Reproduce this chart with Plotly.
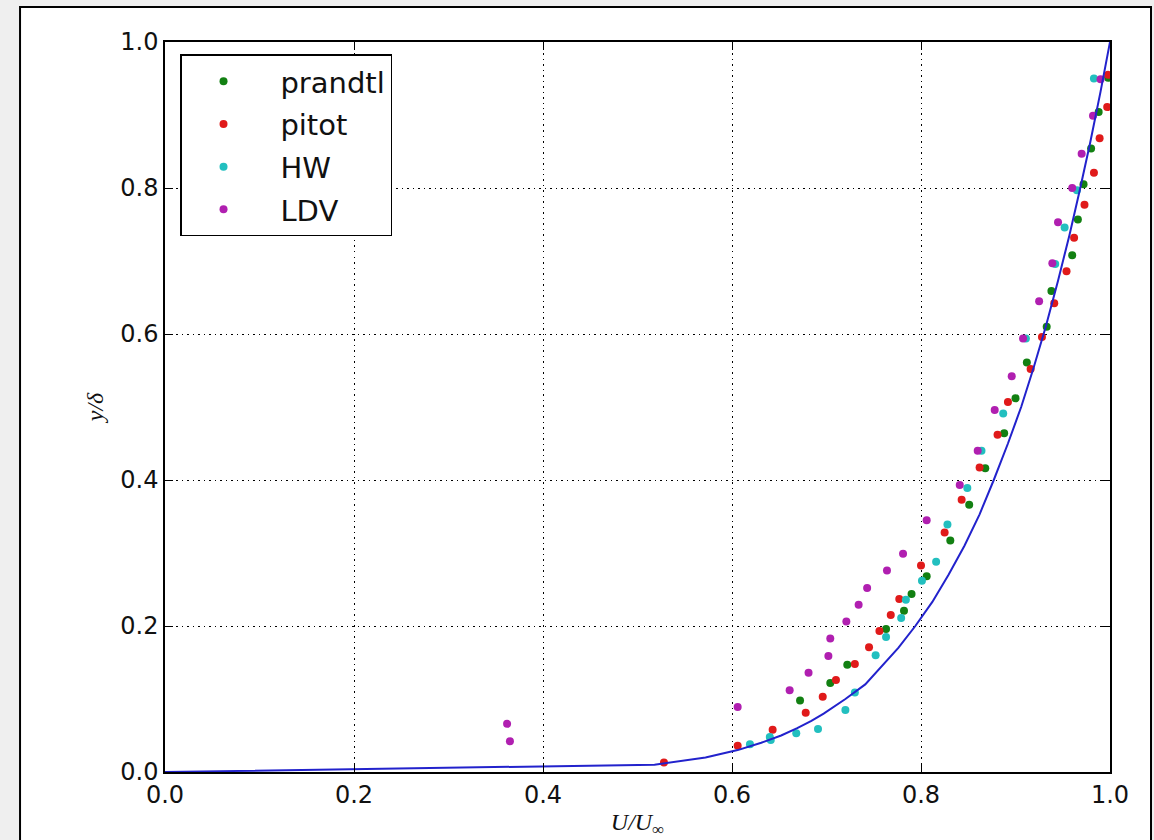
import plotly.graph_objects as go

# ---- data ----
prandtl_u = [0.998, 0.988, 0.980, 0.972, 0.966, 0.960, 0.938, 0.933, 0.912, 0.900, 0.888,
             0.868, 0.851, 0.831, 0.806, 0.790, 0.782, 0.763, 0.722, 0.704, 0.672]
prandtl_y = [0.951, 0.904, 0.854, 0.805, 0.757, 0.708, 0.659, 0.610, 0.561, 0.512, 0.464,
             0.416, 0.366, 0.317, 0.268, 0.244, 0.221, 0.196, 0.147, 0.122, 0.098]

pitot_u = [0.998, 0.997, 0.989, 0.983, 0.973, 0.962, 0.954, 0.941, 0.928, 0.916, 0.892,
           0.881, 0.862, 0.843, 0.825, 0.800, 0.777, 0.768, 0.756, 0.745, 0.730, 0.710,
           0.696, 0.678, 0.643, 0.606, 0.528]
pitot_y = [0.955, 0.911, 0.868, 0.821, 0.777, 0.732, 0.686, 0.642, 0.596, 0.552, 0.507,
           0.462, 0.417, 0.373, 0.328, 0.283, 0.237, 0.215, 0.193, 0.171, 0.148, 0.126,
           0.103, 0.081, 0.058, 0.036, 0.013]

hw_u = [0.983, 0.965, 0.952, 0.942, 0.911, 0.887, 0.864, 0.849, 0.828, 0.816, 0.801,
        0.784, 0.779, 0.763, 0.752, 0.730, 0.720, 0.691, 0.668, 0.640, 0.641, 0.619]
hw_y = [0.950, 0.797, 0.746, 0.696, 0.594, 0.491, 0.440, 0.389, 0.339, 0.288, 0.262,
        0.236, 0.211, 0.185, 0.160, 0.109, 0.085, 0.059, 0.053, 0.048, 0.044, 0.038]

ldv_u = [0.990, 0.982, 0.970, 0.960, 0.945, 0.939, 0.925, 0.908, 0.896, 0.878, 0.860,
         0.841, 0.806, 0.781, 0.764, 0.743, 0.734, 0.721, 0.704, 0.702, 0.681, 0.661,
         0.606, 0.362, 0.365]
ldv_y = [0.949, 0.899, 0.847, 0.800, 0.753, 0.697, 0.645, 0.594, 0.542, 0.496, 0.440,
         0.393, 0.345, 0.299, 0.276, 0.252, 0.229, 0.206, 0.183, 0.159, 0.136, 0.112,
         0.089, 0.066, 0.042]

# theoretical profile
curve_u = [0.0, 0.518, 0.572, 0.606, 0.631, 0.652, 0.669, 0.684, 0.697, 0.709, 0.720,
           0.741, 0.759, 0.776, 0.794, 0.812, 0.829, 0.846, 0.862, 0.877, 0.892, 0.906,
           0.919, 0.932, 0.945, 0.957, 0.968, 0.979, 0.990, 1.0]
curve_y = [0.0, 0.010, 0.020, 0.030, 0.040, 0.050, 0.060, 0.070, 0.080, 0.090, 0.100,
           0.120, 0.145, 0.170, 0.200, 0.233, 0.270, 0.310, 0.353, 0.400, 0.450, 0.500,
           0.553, 0.610, 0.673, 0.735, 0.797, 0.862, 0.932, 1.0]

series_names = ["prandtl", "pitot", "HW", "LDV"]
series_colors = ["#128012", "#e01a1a", "#22bfbf", "#b01fb0"]
series_u = [prandtl_u, pitot_u, hw_u, ldv_u]
series_y = [prandtl_y, pitot_y, hw_y, ldv_y]

tick_vals = [0.0, 0.2, 0.4, 0.6, 0.8, 1.0]
tick_text = ["0.0", "0.2", "0.4", "0.6", "0.8", "1.0"]

fig = go.Figure()
pad = "\u00a0" * 4
for name, col, u, y in zip(series_names, series_colors, series_u, series_y):
    fig.add_trace(go.Scatter(x=u, y=y, mode="markers", name=pad + name, legendgroup=name,
                             marker=dict(color=col, size=8, line=dict(width=0))))

fig.add_trace(go.Scatter(x=curve_u, y=curve_y, mode="lines", showlegend=False,
                         line=dict(color="#2222cc", width=2)))

axis_common = dict(
    range=[0, 1], tickvals=tick_vals, ticktext=tick_text,
    showline=True, linecolor="black", linewidth=1.5, mirror="ticks",
    ticks="inside", ticklen=8, tickwidth=1, tickcolor="black",
    showgrid=True, gridcolor="black", gridwidth=1, griddash="1.5px,4px",
    zeroline=False, automargin=False,
    tickfont=dict(family="DejaVu Sans", size=24, color="#111111"),
)

fig.update_layout(
    width=1154, height=840,
    margin=dict(l=165, r=44, t=42, b=68, autoexpand=False),
    paper_bgcolor="#efefef", plot_bgcolor="white",
    xaxis=dict(**axis_common,
               title=dict(text="<i>U/U</i><sub>∞</sub>", standoff=6,
                          font=dict(family="Liberation Serif", size=24, color="#111111"))),
    yaxis=dict(**axis_common,
               title=dict(text="<i>y/δ</i>", standoff=10,
                          font=dict(family="Liberation Serif", size=24, color="#111111"))),
    legend=dict(x=0.0159, y=0.983, xanchor="left", yanchor="top",
                bgcolor="white", bordercolor="black", borderwidth=1.5,
                font=dict(family="DejaVu Sans", size=29, color="#111111"),
                indentation=22, tracegroupgap=2),
    shapes=[dict(type="rect", xref="paper", yref="paper", layer="below",
                 x0=-0.1534, x1=1.0434, y0=-0.2, y1=1.048,
                 line=dict(color="black", width=2), fillcolor="white")],
    showlegend=True,
)

fig.write_html("out.html", config={"displayModeBar": False},
               post_script="document.body.style.margin='0px';document.body.style.padding='0px';")
